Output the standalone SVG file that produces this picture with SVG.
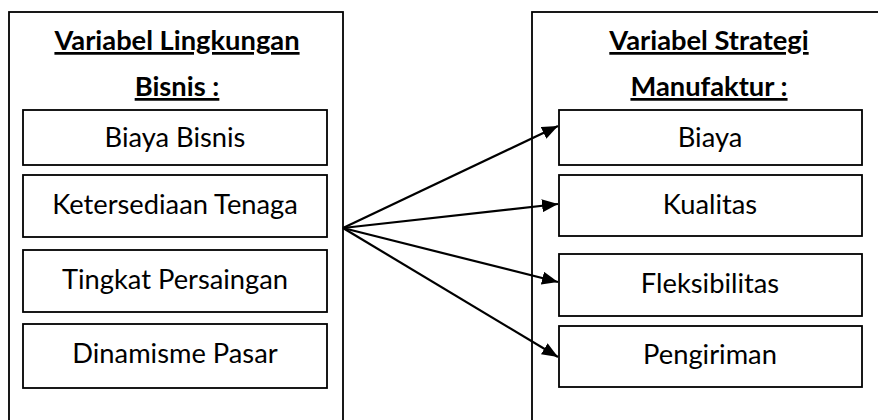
<svg xmlns="http://www.w3.org/2000/svg" width="878" height="420" viewBox="0 0 878 420">
<defs>
<marker id="ah" markerWidth="16" markerHeight="13" refX="16" refY="6.5" orient="auto" markerUnits="userSpaceOnUse">
<path d="M0,0 L16,6.5 L0,13 Z" fill="#000"/>
</marker>
<style>
.box{fill:#fff;stroke:#000;stroke-width:1.8}
.t{font-family:Lato,"Open Sans",sans-serif;font-size:27.3px;fill:#000;text-anchor:middle}
.h{font-family:Lato,"Open Sans",sans-serif;font-size:27.3px;font-weight:bold;fill:#000;text-anchor:middle;text-decoration:underline}
.c{stroke:#000;stroke-width:2.2;fill:none;marker-end:url(#ah)}
</style>
</defs>
<rect width="878" height="420" fill="#fff"/>
<g id="left-group">
<rect class="box" x="9" y="12" width="334" height="420"/>
<text class="h" x="177" y="50">Variabel Lingkungan</text>
<text class="h" x="177" y="96">Bisnis :</text>
</g>
<g id="right-group">
<rect class="box" x="532" y="12" width="360" height="420"/>
<text class="h" x="709" y="50">Variabel Strategi</text>
<text class="h" x="709" y="96">Manufaktur :</text>
</g>
<g id="biaya-bisnis"><rect class="box" x="23" y="110" width="304" height="55"/><text class="t" x="175" y="147">Biaya Bisnis</text></g>
<g id="ketersediaan-tenaga"><rect class="box" x="23" y="175" width="304" height="62"/><text class="t" x="175" y="214">Ketersediaan Tenaga</text></g>
<g id="tingkat-persaingan"><rect class="box" x="23" y="250" width="304" height="62"/><text class="t" x="175" y="289">Tingkat Persaingan</text></g>
<g id="dinamisme-pasar"><rect class="box" x="23" y="324" width="304" height="64"/><text class="t" x="175" y="363">Dinamisme Pasar</text></g>
<g id="biaya"><rect class="box" x="559" y="110" width="303" height="55"/><text class="t" x="710" y="147">Biaya</text></g>
<g id="kualitas"><rect class="box" x="559" y="175" width="303" height="61"/><text class="t" x="710" y="214">Kualitas</text></g>
<g id="fleksibilitas"><rect class="box" x="559" y="254" width="303" height="62"/><text class="t" x="710" y="293">Fleksibilitas</text></g>
<g id="pengiriman"><rect class="box" x="559" y="326" width="303" height="61"/><text class="t" x="710" y="364">Pengiriman</text></g>
<g id="connectors">
<line class="c" x1="343" y1="228" x2="558" y2="126"/>
<line class="c" x1="343" y1="228" x2="558" y2="204"/>
<line class="c" x1="343" y1="228" x2="558" y2="282"/>
<line class="c" x1="343" y1="228" x2="558" y2="357"/>
</g>
</svg>
